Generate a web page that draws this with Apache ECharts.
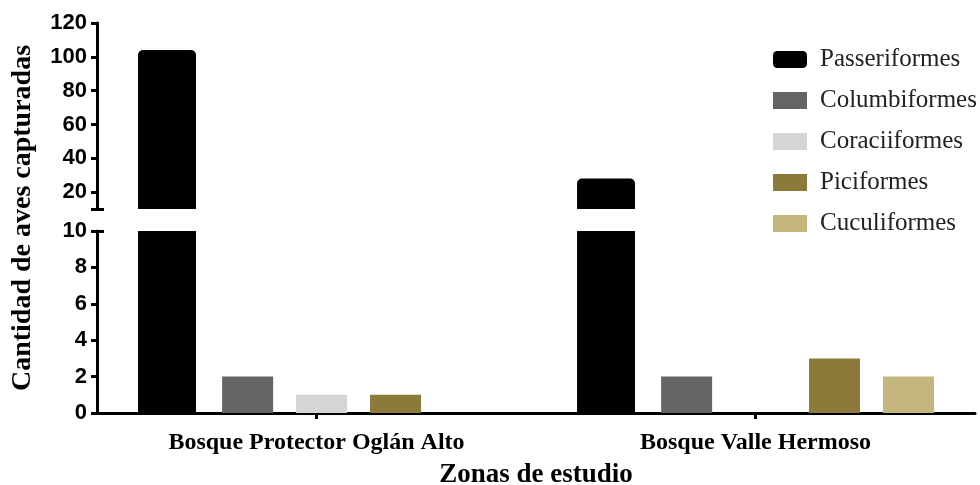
<!DOCTYPE html>
<html><head><meta charset="utf-8">
<script src="https://cdn.jsdelivr.net/npm/echarts@6/dist/echarts.min.js"></script>
<style>html,body{margin:0;padding:0;background:#fff}#c{width:980px;height:485px}</style>
</head><body><div id="c"></div>
<script>
const categories = ['Bosque Protector Oglán Alto', 'Bosque Valle Hermoso'];
const seriesNames = ['Passeriformes', 'Columbiformes', 'Coraciiformes', 'Piciformes', 'Cuculiformes'];
const passeriformes = [104, 28];
const columbiformes = [2, 2];
const coraciiformes = [1, 0];
const piciformes = [1, 3];
const cuculiformes = [0, 2];
const upperTicks = [20, 40, 60, 80, 100, 120];
const breakValue = 10;

const values = [passeriformes, columbiformes, coraciiformes, piciformes, cuculiformes];
const colors = ['#000000', '#646464', '#d5d5d5', '#8c7a3a', '#c4b67c'];
const widths = [58, 51, 51, 51, 51];

const chart = echarts.init(document.getElementById('c'), null, {renderer: 'canvas'});
const sansLabel = {fontFamily: 'Liberation Sans, Arial, sans-serif', fontWeight: 'bold', fontSize: 22, color: '#000'};
const serif = 'Liberation Serif, Times New Roman, serif';
const axisLine = {show: true, lineStyle: {color: '#000', width: 3}};

const series = [];
values.forEach((arr, i) => {
  series.push({
    name: seriesNames[i], type: 'bar', xAxisIndex: 0, yAxisIndex: 0,
    data: arr.map(v => v > breakValue ? v : '-'),
    barWidth: widths[i], barGap: '45%', clip: true,
    itemStyle: {color: colors[i], borderRadius: [5, 5, 0, 0]},
    emphasis: {disabled: true}
  });
  series.push({
    name: seriesNames[i], type: 'bar', xAxisIndex: 1, yAxisIndex: 2,
    data: arr.slice(),
    barWidth: widths[i], barGap: '45%', clip: true,
    itemStyle: {color: colors[i]},
    emphasis: {disabled: true}
  });
});

const option = {
  animation: false,
  backgroundColor: '#fff',
  grid: [
    {left: 97, right: 5, top: 23, bottom: 276, containLabel: false, outerBoundsMode: 'none'},
    {left: 97, right: 5, top: 231, bottom: 72, containLabel: false, outerBoundsMode: 'none'},
    {left: 97, right: 5, top: 23, bottom: 72, containLabel: false, outerBoundsMode: 'none'}
  ],
  legend: {
    orient: 'vertical', left: 768, top: 42,
    itemWidth: 34, itemHeight: 17, itemGap: 16,
    textStyle: {fontFamily: serif, fontSize: 25, color: '#222', padding: [0, 0, 0, 8]},
    data: seriesNames.map((n, i) => ({name: n, icon: i === 0 ? 'roundRect' : 'rect'}))
  },
  xAxis: [
    {type: 'category', gridIndex: 0, data: categories, show: false},
    {type: 'category', gridIndex: 1, data: categories,
     axisLine: axisLine,
     axisTick: {show: true, alignWithLabel: true, length: 6, lineStyle: {color: '#000', width: 3}},
     axisLabel: {fontFamily: serif, fontWeight: 'bold', fontSize: 24, color: '#000', margin: 18},
     name: 'Zonas de estudio', nameLocation: 'middle', nameGap: 49,
     nameTextStyle: {fontFamily: serif, fontWeight: 'bold', fontSize: 27, color: '#000'}},
    {type: 'category', gridIndex: 2, data: categories, show: false}
  ],
  yAxis: [
    {type: 'value', gridIndex: 0, min: breakValue, max: 120,
     axisLine: axisLine,
     axisTick: {show: true, length: 6, lineStyle: {color: '#000', width: 3}, customValues: [breakValue].concat(upperTicks)},
     axisLabel: Object.assign({margin: 10, customValues: upperTicks}, sansLabel),
     splitLine: {show: false}},
    {type: 'value', gridIndex: 0, min: breakValue, max: 120, position: 'left',
     axisLine: {show: false},
     axisTick: {show: true, inside: true, length: 7, lineStyle: {color: '#000', width: 3}, customValues: [breakValue]},
     axisLabel: {show: false}, splitLine: {show: false}},
    {type: 'value', gridIndex: 1, min: 0, max: breakValue, interval: 2,
     axisLine: axisLine,
     axisTick: {show: true, length: 6, lineStyle: {color: '#000', width: 3}},
     axisLabel: Object.assign({margin: 10}, sansLabel),
     splitLine: {show: false}},
    {type: 'value', gridIndex: 1, min: 0, max: breakValue, position: 'left',
     axisLine: {show: false},
     axisTick: {show: true, inside: true, length: 7, lineStyle: {color: '#000', width: 3}, customValues: [breakValue]},
     axisLabel: {show: false}, splitLine: {show: false}},
    {type: 'value', gridIndex: 2, min: 0, max: 1, position: 'left',
     axisLine: {show: false}, axisTick: {show: false}, axisLabel: {show: false}, splitLine: {show: false},
     name: 'Cantidad de aves capturadas', nameLocation: 'middle', nameGap: 60, nameRotate: 90,
     nameTextStyle: {fontFamily: serif, fontWeight: 'bold', fontSize: 28, color: '#000'}}
  ],
  series: series
};
chart.setOption(option);
</script>
</body></html>
